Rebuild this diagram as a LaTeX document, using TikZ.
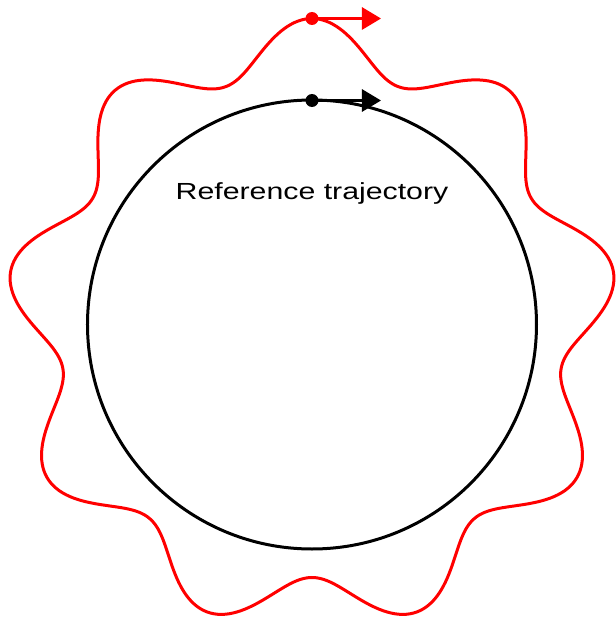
\documentclass[tikz,border=0pt]{standalone}
\usepackage{fontspec}
\setmainfont{Liberation Sans}
\usepackage{tikz}
\usetikzlibrary{arrows.meta}

\begin{document}
\begin{tikzpicture}[
    x=1pt, y=1pt,
    traj/.style={line width=3pt, #1},
    dotmark/.style={circle, fill=#1, inner sep=0pt, minimum size=13pt},
    arrow/.style={-{Triangle[length=19pt, width=22pt]}, line width=3pt, color=#1},
]
    \useasboundingbox (-312,-294.5) rectangle (304,324.5);

    % reference and perturbed trajectories
    \draw[traj=black] (0,0) circle (224.5);
    \draw[traj=red] plot[smooth cycle, samples=540, domain=0:359.33, variable=\t]
        ({(279.5+26.5*cos(9*(\t-90)))*cos(\t)}, {(279.5+26.5*cos(9*(\t-90)))*sin(\t)});

    \node[dotmark=red] (redpt) at (0,306) {};
    \node[dotmark=black] (refpt) at (0,224) {};
    \coordinate (redtip) at (69,306);
    \coordinate (reftip) at (69,224);

    \draw[arrow=red] (redpt.center) -- (redtip);
    \draw[arrow=black] (refpt.center) -- (reftip);

    \node[font=\fontsize{23.3pt}{28pt}\selectfont, xscale=1.3, anchor=base] (reflabel) at (0,125.2) {Reference trajectory};
\end{tikzpicture}
\end{document}
